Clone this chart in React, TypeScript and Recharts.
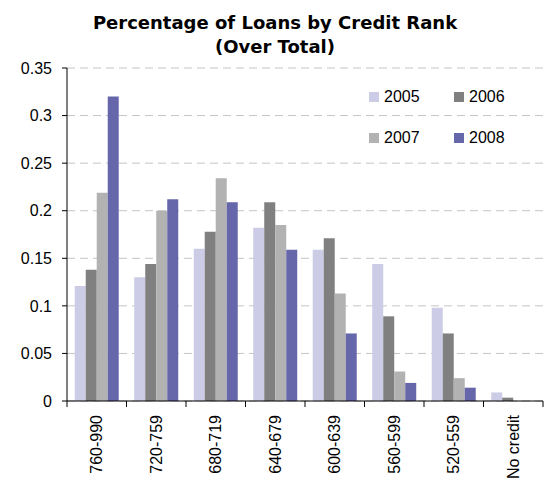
import React from 'react';
import { BarChart, Bar, XAxis, YAxis, CartesianGrid, Legend } from 'recharts';

const categories = ['760-990', '720-759', '680-719', '640-679', '600-639', '560-599', '520-559', 'No credit'];
const s2005 = [0.121, 0.130, 0.160, 0.182, 0.159, 0.144, 0.098, 0.009];
const s2006 = [0.138, 0.144, 0.178, 0.209, 0.171, 0.089, 0.071, 0.0035];
const s2007 = [0.219, 0.200, 0.234, 0.185, 0.113, 0.031, 0.024, 0];
const s2008 = [0.320, 0.212, 0.209, 0.159, 0.071, 0.019, 0.014, 0];
const yTicks = [0, 0.05, 0.1, 0.15, 0.2, 0.25, 0.3, 0.35];
const seriesNames = ['2005', '2006', '2007', '2008'];
const seriesColors = ['#CCCCE6', '#808080', '#B2B2B2', '#6666AA'];

const data = categories.map((c, i) => ({
  name: c,
  '2005': s2005[i],
  '2006': s2006[i],
  '2007': s2007[i],
  '2008': s2008[i],
}));

const TITLE_FONT = '"DejaVu Sans", Verdana, sans-serif';
const FONT = '"Liberation Sans", Arial, sans-serif';

const XTick = (props: any) => {
  const { x, y, payload, index } = props;
  const off = payload.offset || 0;
  const ty = y + 14;
  return (
    <g>
      <line x1={x - off} y1={y} x2={x - off} y2={y + 6} stroke="#000" strokeWidth={1} />
      {index === categories.length - 1 && (
        <line x1={x + off} y1={y} x2={x + off} y2={y + 6} stroke="#000" strokeWidth={1} />
      )}
      <text
        x={x}
        y={ty}
        transform={`rotate(-90, ${x}, ${ty})`}
        textAnchor="end"
        dominantBaseline="central"
        fontSize={16}
        fontFamily={FONT}
        fill="#000"
      >
        {payload.value}
      </text>
    </g>
  );
};

const LegendContent = () => (
  <div
    style={{
      display: 'grid',
      gridTemplateColumns: '85px 85px',
      rowGap: 22,
      fontFamily: FONT,
      fontSize: 16,
      color: '#000',
    }}
  >
    {seriesNames.map((n, i) => (
      <div key={n} style={{ display: 'flex', alignItems: 'center', height: 19 }}>
        <span style={{ width: 10, height: 10, background: seriesColors[i], display: 'inline-block', marginRight: 5 }} />
        <span>{n}</span>
      </div>
    ))}
  </div>
);

export default function App() {
  return (
    <div style={{ position: 'absolute', left: 0, top: 0, width: 550, height: 478, background: '#fff' }}>
      <div
        style={{
          position: 'absolute',
          left: 0,
          top: 11,
          width: 550,
          textAlign: 'center',
          fontFamily: TITLE_FONT,
          fontWeight: 'bold',
          fontSize: 18,
          lineHeight: '24px',
          zIndex: 2,
        }}
      >
        Percentage of Loans by Credit Rank
        <br />
        (Over Total)
      </div>
      <BarChart
        width={550}
        height={478}
        data={data}
        margin={{ top: 68, right: 7, left: 0, bottom: 0 }}
        barCategoryGap="13%"
        barGap={0}
      >
        <CartesianGrid vertical={false} stroke="#C4C4C4" strokeDasharray="8 5" />
        <XAxis
          dataKey="name"
          height={77}
          tick={<XTick />}
          tickLine={false}
          axisLine={{ stroke: '#000' }}
          interval={0}
          tickMargin={0}
          tickSize={0}
        />
        <YAxis
          width={67}
          domain={[0, 0.35]}
          ticks={yTicks}
          tickSize={5}
          tickMargin={10}
          axisLine={{ stroke: '#000' }}
          tickLine={{ stroke: '#000' }}
          tick={{ fontSize: 16, fontFamily: FONT, fill: '#000' }}
          interval={0}
        />
        <Legend
          content={<LegendContent />}
          layout="horizontal"
          verticalAlign="middle"
          align="center"
          wrapperStyle={{ position: 'absolute', left: 369, top: 87, width: 180 }}
        />
        {seriesNames.map((n, i) => (
          <Bar key={n} dataKey={n} fill={seriesColors[i]} isAnimationActive={false} />
        ))}
      </BarChart>
    </div>
  );
}
